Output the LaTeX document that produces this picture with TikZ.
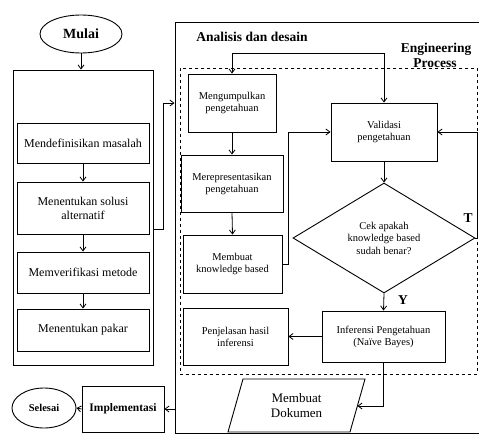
\documentclass[tikz,border=0pt]{standalone}
\usepackage{fontspec}
\setmainfont{Liberation Serif}
\usetikzlibrary{arrows.meta,shapes.geometric}
\tikzset{
  box/.style={draw, rectangle, line width=0.9pt, inner sep=1pt, align=center, font=\fontsize{10.5}{12}\selectfont},
  lbox/.style={draw, rectangle, line width=0.9pt, inner sep=1pt, align=center, minimum width=132, font=\fontsize{12}{14}\selectfont},
  term/.style={draw, ellipse, line width=0.9pt, inner sep=0pt, font=\bfseries\fontsize{14}{16}\selectfont},
  arr/.style={line width=0.8pt, -{Straight Barb[length=4pt,width=6pt]}},
  arrb/.style={line width=0.8pt, {Straight Barb[length=4pt,width=6pt]}-{Straight Barb[length=4pt,width=6pt]}},
  lbl/.style={font=\bfseries\fontsize{13.5}{15}\selectfont, inner sep=1pt}
}
\begin{document}
\begin{tikzpicture}[x=1pt,y=-1pt]
\useasboundingbox (0,0) rectangle (479,434);
% left column
\node[term, minimum width=82, minimum height=38] (mulai) at (81,34) {Mulai};
\node[draw, line width=1pt, minimum width=140, minimum height=295, inner sep=0] (leftbox) at (83,217.5) {};
\node[lbox, minimum height=40] (def) at (83,143) {Mendefinisikan masalah};
\node[lbox, minimum height=52] (sol) at (83,208) {Menentukan solusi\\alternatif};
\node[lbox, minimum height=41] (ver) at (83,272.5) {Memverifikasi metode};
\node[lbox, minimum height=42] (pakar) at (83,330) {Menentukan pakar};
% right region
\node[draw, line width=1pt, minimum width=310, minimum height=411, inner sep=0] (rightbox) at (330,227.5) {};
\node[draw, dashed, line width=0.9pt, minimum width=297, minimum height=306, inner sep=0] (eng) at (328.5,221) {};
\node[lbl] (analisis) at (252,37) {Analisis dan desain};
\node[lbl] (engl) at (436,49) {Engineering};
\node[lbl, fill=white, inner sep=0.5pt] (procl) at (435,63) {Process};
\node[box, minimum width=88, minimum height=58] (kump) at (232,103) {Mengumpulkan\\pengetahuan};
\node[box, minimum width=102, minimum height=57] (rep) at (232,183.5) {Merepresentasikan\\pengetahuan};
\node[box, minimum width=99, minimum height=58] (kb) at (232.5,264) {Membuat\\knowledge based};
\node[box, minimum width=106, minimum height=58] (val) at (384,132) {Validasi\\pengetahuan};
\node[draw, diamond, line width=0.9pt, inner sep=0pt, minimum width=182, minimum height=110, align=center, font=\fontsize{10.5}{12.5}\selectfont] (cek) at (384,238) {Cek apakah\\knowledge based\\sudah benar?};
\node[box, minimum width=123, minimum height=51] (inf) at (383.5,336.5) {Inferensi Pengetahuan\\(Naïve Bayes)};
\node[box, minimum width=105, minimum height=57] (pen) at (235.5,336.5) {Penjelasan hasil\\inferensi};
\draw[line width=0.9pt] (243,379) -- (365,379) -- (350,432) -- (228,432) -- cycle;
\node[align=center, font=\fontsize{13}{15.5}\selectfont] (dok) at (296.5,405.5) {Membuat\\Dokumen};
\coordinate (dokR) at (357.5,406);
\node[lbl] (tl) at (468,218) {T};
\node[lbl] (yl) at (403,300) {Y};
% bottom left
\node[draw, line width=0.9pt, minimum width=82, minimum height=46, inner sep=0, font=\bfseries\fontsize{11.5}{13}\selectfont] (impl) at (123,409) {Implementasi};
\node[term, minimum width=64, minimum height=40, font=\bfseries\fontsize{10.5}{12}\selectfont] (selesai) at (44,408) {Selesai};
% connectors
\draw[arr] (mulai.south) -- (mulai.south |- leftbox.north);
\draw[arr] (def.south) -- (sol.north);
\draw[arr] (sol.south) -- (ver.north);
\draw[arr] (ver.south) -- (pakar.north);
\draw[arr] (leftbox.east |- 0,229) -- ++(10,0) |- (rightbox.west |- 0,103);
\draw[arr] (kump.south) -- (rep.north);
\draw[arr] (rep.south) -- (kb.north);
\draw[arr] (kb.east) -- ++(6,0) |- (val.west);
\draw[arrb] (kump.north) -- ++(0,-20) -| (val.north);
\draw[arr] (val.south) -- (cek.north);
\draw[arr] (cek.east) -- ++(2,0) |- (val.east);
\draw[arr] (cek.south) -- (inf.north);
\draw[arr] (inf.west) -- (pen.east);
\draw[arr] (inf.south) |- (dokR);
\draw[arr] (rightbox.west |- impl.east) -- (impl.east);
\draw[arr] (impl.west) -- (selesai.east);
\end{tikzpicture}
\end{document}
